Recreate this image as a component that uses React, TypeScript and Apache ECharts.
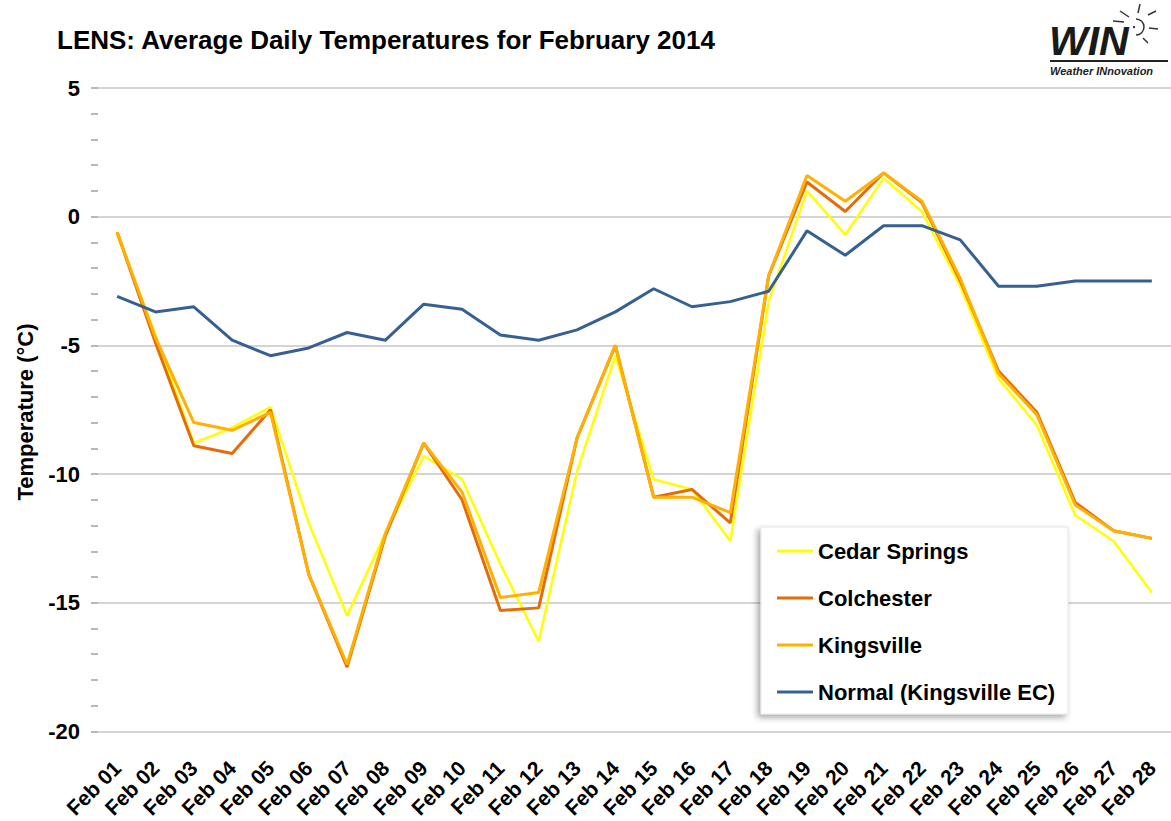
import React, { useEffect, useRef } from 'react';
import * as echarts from 'echarts';

const days = [
  'Feb 01', 'Feb 02', 'Feb 03', 'Feb 04', 'Feb 05', 'Feb 06', 'Feb 07', 'Feb 08', 'Feb 09', 'Feb 10',
  'Feb 11', 'Feb 12', 'Feb 13', 'Feb 14', 'Feb 15', 'Feb 16', 'Feb 17', 'Feb 18', 'Feb 19', 'Feb 20',
  'Feb 21', 'Feb 22', 'Feb 23', 'Feb 24', 'Feb 25', 'Feb 26', 'Feb 27', 'Feb 28',
];

const cedarSprings = [
  -0.7, -4.6, -8.8, -8.2, -7.4, -11.9, -15.5, -12.3, -9.3, -10.2,
  -13.5, -16.5, -9.9, -5.4, -10.2, -10.6, -12.6, -3.3, 1.0, -0.7,
  1.5, 0.2, -2.7, -6.3, -8.1, -11.6, -12.6, -14.6,
];

const colchester = [
  -0.6, -4.9, -8.9, -9.2, -7.5, -13.9, -17.5, -12.4, -8.8, -11.0,
  -15.3, -15.2, -8.6, -5.0, -10.9, -10.6, -11.9, -2.3, 1.35, 0.2,
  1.7, 0.55, -2.5, -6.0, -7.6, -11.1, -12.2, -12.5,
];

const kingsville = [
  -0.6, -4.7, -8.0, -8.3, -7.6, -13.9, -17.4, -12.3, -8.8, -10.7,
  -14.8, -14.6, -8.6, -5.0, -10.9, -10.9, -11.5, -2.3, 1.6, 0.6,
  1.7, 0.6, -2.4, -6.1, -7.7, -11.2, -12.2, -12.5,
];

const normal = [
  -3.1, -3.7, -3.5, -4.8, -5.4, -5.1, -4.5, -4.8, -3.4, -3.6,
  -4.6, -4.8, -4.4, -3.7, -2.8, -3.5, -3.3, -2.9, -0.55, -1.5,
  -0.35, -0.35, -0.9, -2.7, -2.7, -2.5, -2.5, -2.5,
];

const seriesNames = ['Cedar Springs', 'Colchester', 'Kingsville', 'Normal (Kingsville EC)'];
const seriesColors = ['#ffff00', '#e46c0a', '#ffb000', '#376092'];

const FONT = '"Liberation Sans", Arial, sans-serif';

export default function App() {
  const ref = useRef<HTMLDivElement>(null);

  useEffect(() => {
    if (!ref.current) return;
    const chart = echarts.init(ref.current, null, { renderer: 'svg' });
    const dataSets = [cedarSprings, colchester, kingsville, normal];
    const widths = [2.5, 3, 3, 3];

    chart.setOption({
      animation: false,
      backgroundColor: '#ffffff',
      title: {
        text: 'LENS: Average Daily Temperatures for February 2014',
        left: 57,
        top: 27,
        padding: 0,
        textStyle: { fontSize: 26, fontWeight: 'bold', color: '#000', fontFamily: FONT },
      },
      grid: { left: 98, top: 88, width: 1083, height: 648, containLabel: false },
      legend: {
        orient: 'vertical',
        left: 761,
        top: 527,
        padding: [13, 13, 11, 16],
        icon: 'rect',
        itemWidth: 36,
        itemHeight: 3,
        itemGap: 25,
        backgroundColor: '#ffffff',
        borderColor: '#e4e4e4',
        borderWidth: 1,
        shadowBlur: 6,
        shadowColor: 'rgba(0,0,0,0.35)',
        shadowOffsetX: -3,
        shadowOffsetY: 3,
        textStyle: { fontSize: 22, fontWeight: 'bold', color: '#000', fontFamily: FONT, lineHeight: 22 },
        data: seriesNames,
      },
      xAxis: {
        type: 'category',
        data: days,
        boundaryGap: true,
        axisTick: { show: false },
        axisLine: {
          lineStyle: {
            color: '#a6a6a6',
            width: 4,
            shadowColor: 'rgba(0,0,0,0.3)',
            shadowBlur: 3,
            shadowOffsetY: 2,
          },
        },
        axisLabel: {
          interval: 0,
          rotate: 45,
          margin: 33,
          fontSize: 21,
          fontWeight: 'bold',
          color: '#000',
          fontFamily: FONT,
        },
        splitLine: { show: false },
      },
      yAxis: {
        type: 'value',
        min: -20,
        max: 5,
        interval: 5,
        axisLine: {
          show: true,
          lineStyle: {
            color: '#a6a6a6',
            width: 4,
            shadowColor: 'rgba(0,0,0,0.3)',
            shadowBlur: 3,
            shadowOffsetX: -2,
          },
        },
        axisTick: { show: true, length: 7, lineStyle: { color: '#a0a0a0', width: 1.5 } },
        minorTick: { show: true, splitNumber: 5, length: 7, lineStyle: { color: '#a0a0a0', width: 1.5 } },
        axisLabel: {
          margin: 18,
          fontSize: 22,
          fontWeight: 'bold',
          color: '#000',
          fontFamily: FONT,
        },
        splitLine: { show: true, lineStyle: { color: '#c6c6c6', width: 1.5 } },
      },
      series: seriesNames.map((name, i) => ({
        name,
        type: 'line',
        data: dataSets[i],
        symbol: 'none',
        color: seriesColors[i],
        lineStyle: { color: seriesColors[i], width: widths[i] },
        z: 2 + i,
      })),
      graphic: [
        {
          type: 'text',
          x: 25,
          y: 412,
          rotation: Math.PI / 2,
          style: {
            text: 'Temperature (°C)',
            fontSize: 22,
            fontWeight: 'bold',
            fontFamily: FONT,
            fill: '#000',
            textAlign: 'center',
            textVerticalAlign: 'middle',
            align: 'center',
            verticalAlign: 'middle',
          },
        },
        {
          type: 'text',
          x: 1049,
          y: 41,
          style: {
            text: 'WIN',
            fontSize: 41,
            lineHeight: 30,
            fontWeight: 'bold',
            fontStyle: 'italic',
            fontFamily: FONT,
            fill: '#1a1a1a',
            textAlign: 'left',
            textVerticalAlign: 'middle',
            align: 'left',
            verticalAlign: 'middle',
          },
        },
        { type: 'rect', shape: { x: 1050, y: 60, width: 118, height: 2 }, style: { fill: '#222' } },
        {
          type: 'text',
          x: 1050,
          y: 70.5,
          style: {
            text: 'Weather INnovation',
            fontSize: 11,
            lineHeight: 11,
            fontWeight: 'bold',
            fontStyle: 'italic',
            fontFamily: FONT,
            fill: '#222',
            textAlign: 'left',
            textVerticalAlign: 'middle',
            align: 'left',
            verticalAlign: 'middle',
          },
        },
        {
          type: 'arc',
          shape: { cx: 1136, cy: 27, r: 8, startAngle: -Math.PI / 2, endAngle: Math.PI / 2 },
          style: { stroke: '#333', lineWidth: 1.5, fill: 'none' },
        },
        { type: 'line', shape: { x1: 1140, y1: 4, x2: 1138, y2: 13 }, style: { stroke: '#333', lineWidth: 1.5 } },
        { type: 'line', shape: { x1: 1120, y1: 11, x2: 1129, y2: 17 }, style: { stroke: '#333', lineWidth: 1.5 } },
        { type: 'line', shape: { x1: 1148, y1: 15, x2: 1156, y2: 11 }, style: { stroke: '#333', lineWidth: 1.5 } },
        { type: 'line', shape: { x1: 1113, y1: 21, x2: 1124, y2: 22 }, style: { stroke: '#333', lineWidth: 1.5 } },
        { type: 'line', shape: { x1: 1149, y1: 28, x2: 1158, y2: 29 }, style: { stroke: '#333', lineWidth: 1.5 } },
        { type: 'line', shape: { x1: 1143, y1: 38, x2: 1148, y2: 43 }, style: { stroke: '#333', lineWidth: 1.5 } },
        { type: 'circle', shape: { cx: 1134, cy: 27, r: 1.2 }, style: { fill: '#333' } },
      ],
    });

    return () => chart.dispose();
  }, []);

  return (
    <div
      ref={ref}
      style={{ position: 'absolute', left: 0, top: 0, width: 1171, height: 821, background: '#fff' }}
    />
  );
}
